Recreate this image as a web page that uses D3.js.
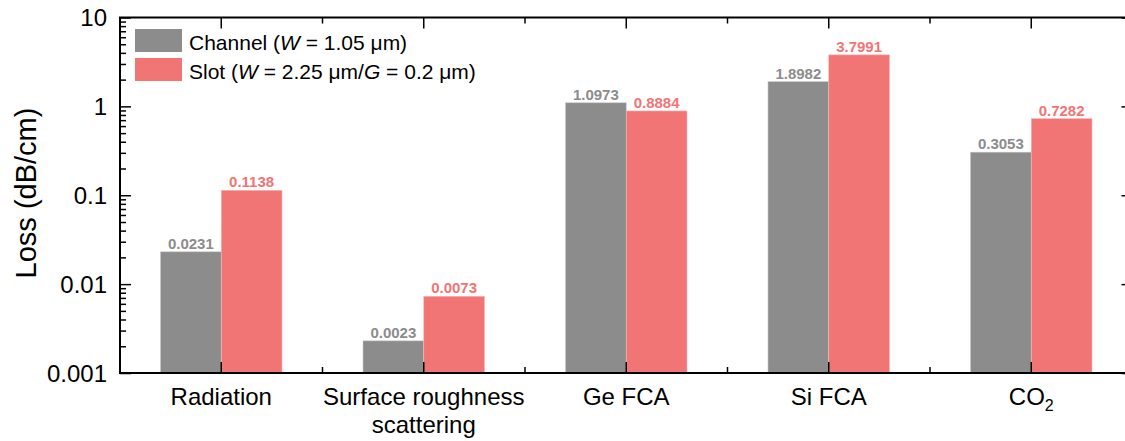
<!DOCTYPE html>
<html>
<head>
<meta charset="utf-8">
<script src="https://cdn.jsdelivr.net/npm/d3@7"></script>
<style>
  body { margin: 0; background: #fff; }
  text { font-family: "Liberation Sans", Arial, sans-serif; }
</style>
</head>
<body>
<svg id="chart"></svg>
<script>
const width = 1125;
const height = 441;

// data
const categories = ["Radiation", "Surface roughness scattering", "Ge FCA", "Si FCA", "CO2"];
const channelLoss = [0.0231, 0.0023, 1.0973, 1.8982, 0.3053];
const slotLoss = [0.1138, 0.0073, 0.8884, 3.7991, 0.7282];
const channelLabels = ["0.0231", "0.0023", "1.0973", "1.8982", "0.3053"];
const slotLabels = ["0.1138", "0.0073", "0.8884", "3.7991", "0.7282"];
const yTicks = [0.001, 0.01, 0.1, 1, 10];
const yTickLabels = ["0.001", "0.01", "0.1", "1", "10"];

const grey = "#8c8c8c";
const red = "#f27575";

const svg = d3.select("svg#chart").attr("width", width).attr("height", height);

const margin = { top: 17.5, bottom: 68, left: 120, right: -7.5 };
const x0 = margin.left, x1 = width - margin.right;
const y0 = height - margin.bottom, y1 = margin.top;

const x = d3.scaleBand().domain(categories).range([x0, x1]).padding(0);
const y = d3.scaleLog().domain([0.001, 10]).range([y0, y1]);
const barW = x.bandwidth() * 0.3;

// bars
const rows = categories.map((c, i) => ({ c, ch: channelLoss[i], sl: slotLoss[i], chL: channelLabels[i], slL: slotLabels[i] }));

const g = svg.append("g").attr("id", "bars");
g.selectAll("rect.ch").data(rows).enter().append("rect")
  .attr("class", "ch")
  .attr("x", d => x(d.c) + x.bandwidth() / 2 - barW)
  .attr("y", d => y(d.ch))
  .attr("width", barW)
  .attr("height", d => y0 - y(d.ch))
  .style("fill", grey)
  .style("stroke", "#c8c8c8").style("stroke-width", 0.6);
g.selectAll("rect.sl").data(rows).enter().append("rect")
  .attr("class", "sl")
  .attr("x", d => x(d.c) + x.bandwidth() / 2)
  .attr("y", d => y(d.sl))
  .attr("width", barW)
  .attr("height", d => y0 - y(d.sl))
  .style("fill", red)
  .style("stroke", "#f8b8b8").style("stroke-width", 0.6);

// value labels
g.selectAll("text.chl").data(rows).enter().append("text")
  .attr("x", d => x(d.c) + x.bandwidth() / 2 - barW / 2)
  .attr("y", d => y(d.ch) - 3)
  .attr("text-anchor", "middle")
  .style("font-size", "15px").style("font-weight", "bold").style("fill", grey)
  .text(d => d.chL);
g.selectAll("text.sll").data(rows).enter().append("text")
  .attr("x", d => x(d.c) + x.bandwidth() / 2 + barW / 2)
  .attr("y", d => y(d.sl) - 3)
  .attr("text-anchor", "middle")
  .style("font-size", "15px").style("font-weight", "bold").style("fill", red)
  .text(d => d.slL);

// minor ticks for log axis
const minor = [];
for (let e = -3; e < 1; e++) {
  for (let m = 2; m <= 9; m++) minor.push(m * Math.pow(10, e));
}

// left axis
svg.append("g").attr("transform", "translate(" + x0 + ",0)")
  .call(d3.axisRight(y).tickValues(minor).tickSize(6).tickFormat(""))
  .call(a => a.select(".domain").remove())
  .selectAll("line").style("stroke", "#000").style("stroke-width", 1.5);
const yl = svg.append("g").attr("transform", "translate(" + x0 + ",0)")
  .call(d3.axisRight(y).tickValues(yTicks).tickSize(11).tickFormat(""));
yl.select(".domain").remove();
yl.selectAll("line").style("stroke", "#000").style("stroke-width", 1.5);

svg.append("g").selectAll("text").data(yTicks).enter().append("text")
  .attr("x", x0 - 13)
  .attr("y", d => y(d) + 8.5)
  .attr("text-anchor", "end")
  .style("font-size", "24px")
  .text((d, i) => yTickLabels[i]);

// right axis (major only)
const yr = svg.append("g").attr("transform", "translate(" + x1 + ",0)")
  .call(d3.axisLeft(y).tickValues(yTicks).tickSize(11).tickFormat(""));
yr.select(".domain").remove();
yr.selectAll("line").style("stroke", "#000").style("stroke-width", 1.5);

// x ticks at centers (long) and boundaries (short), bottom and top
const centers = categories.map(c => x(c) + x.bandwidth() / 2);
const bounds = categories.slice(1).map(c => x(c));
[[y0, -1], [y1, 1]].forEach(([yy, dir]) => {
  svg.append("g").selectAll("line.c").data(centers).enter().append("line")
    .attr("x1", d => d).attr("x2", d => d)
    .attr("y1", yy).attr("y2", yy + dir * 11)
    .style("stroke", "#000").style("stroke-width", 1.5);
  svg.append("g").selectAll("line.b").data(bounds).enter().append("line")
    .attr("x1", d => d).attr("x2", d => d)
    .attr("y1", yy).attr("y2", yy + dir * 6)
    .style("stroke", "#000").style("stroke-width", 1.5);
});

// frame
svg.append("rect")
  .attr("x", x0).attr("y", y1)
  .attr("width", x1 - x0).attr("height", y0 - y1)
  .style("fill", "none").style("stroke", "#000").style("stroke-width", 2);

// category labels
const catText = svg.append("g").selectAll("text").data(categories).enter().append("text")
  .attr("x", d => x(d) + x.bandwidth() / 2)
  .attr("y", 405)
  .attr("text-anchor", "middle")
  .style("font-size", "24px");
catText.each(function(d) {
  const t = d3.select(this);
  if (d === "Surface roughness scattering") {
    t.append("tspan").attr("x", x(d) + x.bandwidth() / 2).text("Surface roughness");
    t.append("tspan").attr("x", x(d) + x.bandwidth() / 2).attr("dy", 28).text("scattering");
  } else if (d === "CO2") {
    t.append("tspan").text("CO");
    t.append("tspan").attr("dy", 6).style("font-size", "16px").text("2");
  } else {
    t.text(d);
  }
});

// y label
svg.append("text")
  .attr("transform", "translate(36,193) rotate(-90)")
  .attr("text-anchor", "middle")
  .style("font-size", "29px")
  .text("Loss (dB/cm)");

// legend
const legend = svg.append("g").attr("id", "legend");
const legendItems = [
  { color: grey, parts: [["Channel (", false], ["W", true], [" = 1.05 \u03BCm)", false]] },
  { color: red, parts: [["Slot (", false], ["W", true], [" = 2.25 \u03BCm/", false], ["G", true], [" = 0.2 \u03BCm)", false]] }
];
legendItems.forEach((it, i) => {
  legend.append("rect")
    .attr("x", 135).attr("y", 29 + i * 29)
    .attr("width", 47).attr("height", 23)
    .style("fill", it.color);
  const t = legend.append("text")
    .attr("x", 189).attr("y", 49.5 + i * 29)
    .style("font-size", "21px");
  it.parts.forEach(p => t.append("tspan").style("font-style", p[1] ? "italic" : "normal").text(p[0]));
});
</script>
</body>
</html>
